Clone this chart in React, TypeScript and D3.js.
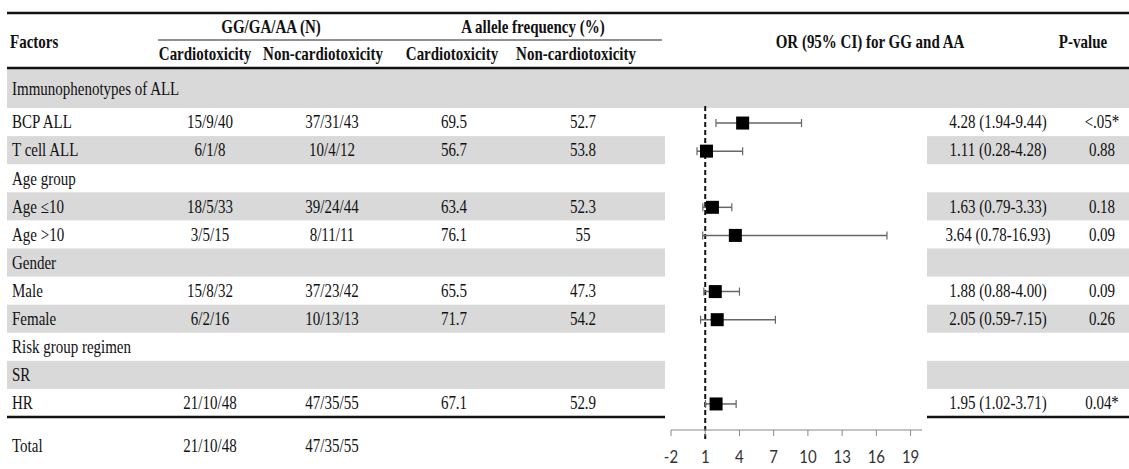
import * as d3 from 'd3';

// table rows
const factors = ["Immunophenotypes of ALL", "BCP ALL", "T cell ALL", "Age group", "Age \u226410", "Age >10", "Gender", "Male", "Female", "Risk group regimen", "SR", "HR"];
const genoCardio = ["", "15/9/40", "6/1/8", "", "18/5/33", "3/5/15", "", "15/8/32", "6/2/16", "", "", "21/10/48"];
const genoNon = ["", "37/31/43", "10/4/12", "", "39/24/44", "8/11/11", "", "37/23/42", "10/13/13", "", "", "47/35/55"];
const alleleCardio = [null, 69.5, 56.7, null, 63.4, 76.1, null, 65.5, 71.7, null, null, 67.1];
const alleleNon = [null, 52.7, 53.8, null, 52.3, 55, null, 47.3, 54.2, null, null, 52.9];
const oddsRatio = [null, 4.28, 1.11, null, 1.63, 3.64, null, 1.88, 2.05, null, null, 1.95];
const ciLow = [null, 1.94, 0.28, null, 0.79, 0.78, null, 0.88, 0.59, null, null, 1.02];
const ciHigh = [null, 9.44, 4.28, null, 3.33, 16.93, null, 4.00, 7.15, null, null, 3.71];
const pValues = ["", "<.05*", "0.88", "", "0.18", "0.09", "", "0.09", "0.26", "", "", "0.04*"];
const totalCardio = "21/10/48";
const totalNon = "47/35/55";
const axisTicks = [-2, 1, 4, 7, 10, 13, 16, 19];

const W = 1129, H = 469;
const L = 7, R = 1129;
const gray = "#d9d9d9";
const serif = "'Liberation Serif', 'Times New Roman', serif";

// column centers
const col = { label: 12, nC: 210, nN: 332, aC: 454, aN: 583, or: 998, p: 1102 };
const plotLeft = 665, plotRight = 927;

const T = ({ x, y, anchor = "middle", bold = false, size = 15, family = serif, fill = "#111", children }: any) => (
    <text transform={`translate(${x},${y}) scale(1,1.2)`} dy="0.35em" textAnchor={anchor}
        fontFamily={family} fontSize={size} fontWeight={bold ? "bold" : "normal"} fill={fill}>{children}</text>
);

const App = () => {
    const band = d3.scaleBand<number>().domain(d3.range(1, factors.length)).range([108, 417]);
    const rowTop = (i: number) => i === 0 ? 69 : band(i)!;
    const rowH = (i: number) => i === 0 ? 39 : band.bandwidth();
    const rowMid = (i: number) => rowTop(i) + rowH(i) / 2;

    const x = d3.scaleLinear().domain([-2, 20]).range([671, 922]);
    const axisY = 430;
    const sq = 13;

    return (
        <svg width={W} height={H} style={{ position: 'absolute', left: 0, top: 0, background: '#fff' }}>
            {/* shaded rows */}
            {factors.map((_, i) => i % 2 !== 0 ? null : (
                i === 0
                    ? <rect key={i} x={L} y={rowTop(i)} width={R - L} height={rowH(i)} fill={gray} />
                    : <g key={i}>
                        <rect x={L} y={rowTop(i)} width={plotLeft - L} height={rowH(i)} fill={gray} />
                        <rect x={plotRight} y={rowTop(i)} width={R - plotRight} height={rowH(i)} fill={gray} />
                    </g>
            ))}

            {/* rules */}
            <line x1={L} x2={R} y1={13} y2={13} stroke="#111" strokeWidth={2.5} />
            <line x1={158} x2={662} y1={40} y2={40} stroke="#222" strokeWidth={1} />
            <line x1={L} x2={R} y1={68} y2={68} stroke="#111" strokeWidth={2.5} />
            <line x1={L} x2={plotLeft} y1={417} y2={417} stroke="#111" strokeWidth={2.5} />
            <line x1={plotRight} x2={R} y1={417} y2={417} stroke="#111" strokeWidth={2.5} />

            {/* header */}
            <T x={10} y={42} anchor="start" bold>Factors</T>
            <T x={271} y={27} bold>GG/GA/AA (N)</T>
            <T x={533} y={27} bold>A allele frequency (%)</T>
            <T x={205} y={54} bold>Cardiotoxicity</T>
            <T x={323} y={54} bold>Non-cardiotoxicity</T>
            <T x={452} y={54} bold>Cardiotoxicity</T>
            <T x={576} y={54} bold>Non-cardiotoxicity</T>
            <T x={870} y={42} bold>OR (95% CI) for GG and AA</T>
            <T x={1083} y={42} bold>P-value</T>

            {/* body */}
            {factors.map((f, i) => (
                <g key={f}>
                    <T x={col.label} y={rowMid(i)} anchor="start">{f}</T>
                    <T x={col.nC} y={rowMid(i)}>{genoCardio[i]}</T>
                    <T x={col.nN} y={rowMid(i)}>{genoNon[i]}</T>
                    {alleleCardio[i] != null && <T x={col.aC} y={rowMid(i)}>{String(alleleCardio[i])}</T>}
                    {alleleNon[i] != null && <T x={col.aN} y={rowMid(i)}>{String(alleleNon[i])}</T>}
                    {oddsRatio[i] != null && <T x={col.or} y={rowMid(i)}>
                        {`${oddsRatio[i]!.toFixed(2)} (${ciLow[i]!.toFixed(2)}-${ciHigh[i]!.toFixed(2)})`}</T>}
                    <T x={col.p} y={rowMid(i)}>{pValues[i]}</T>
                </g>
            ))}
            <T x={col.label} y={446} anchor="start">Total</T>
            <T x={col.nC} y={446}>{totalCardio}</T>
            <T x={col.nN} y={446}>{totalNon}</T>

            {/* forest plot */}
            <line x1={x(1)} x2={x(1)} y1={106} y2={439} stroke="#111" strokeWidth={2} strokeDasharray="5,3" />
            {oddsRatio.map((o, i) => o == null ? null : (
                <g key={i} transform={`translate(0,${rowMid(i) + 1})`}>
                    <line x1={x(ciLow[i]!)} x2={x(ciHigh[i]!)} y1={0} y2={0} stroke="#666" strokeWidth={1.5} />
                    <line x1={x(ciLow[i]!)} x2={x(ciLow[i]!)} y1={-4} y2={4} stroke="#666" strokeWidth={1.2} />
                    <line x1={x(ciHigh[i]!)} x2={x(ciHigh[i]!)} y1={-4} y2={4} stroke="#666" strokeWidth={1.2} />
                    <rect x={x(o) - sq / 2} y={-sq / 2} width={sq} height={sq} fill="#000" />
                </g>
            ))}
            <line x1={x(-2)} x2={x(20)} y1={axisY} y2={axisY} stroke="#888" strokeWidth={1} />
            {axisTicks.map(t => (
                <g key={t}>
                    <line x1={x(t)} x2={x(t)} y1={axisY} y2={axisY + 6} stroke="#888" strokeWidth={1} />
                    <T x={x(t)} y={457} size={15} family="Lato, 'Open Sans', sans-serif" fill="#333">{t}</T>
                </g>
            ))}
        </svg>
    );
};

export default App;
